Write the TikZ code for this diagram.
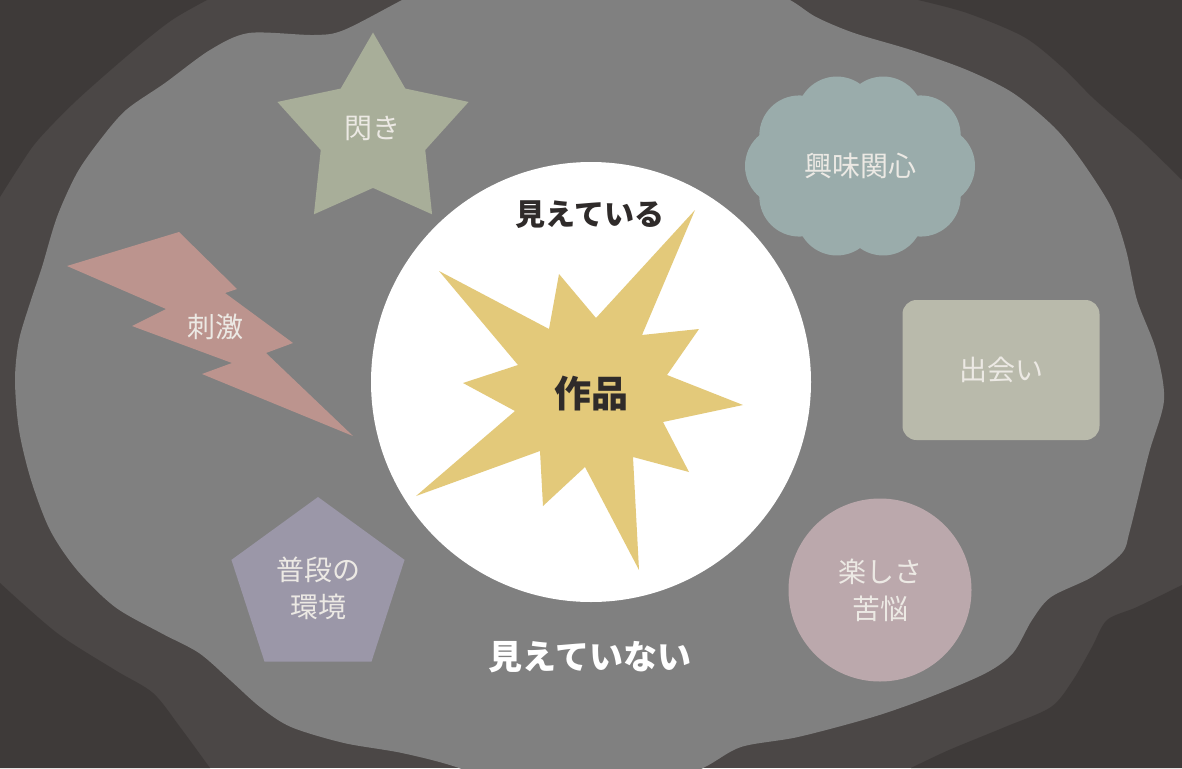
\documentclass[tikz,border=0pt]{standalone}
\usepackage{fontspec}
\setmainfont{Noto Sans CJK JP}
\usepackage{tikz}
\usetikzlibrary{shapes.geometric}
\usepackage{xcolor}
\definecolor{bgdark}{HTML}{3E3A39}
\definecolor{bgmid}{HTML}{4B4746}
\definecolor{fog}{HTML}{808080}
\definecolor{starcol}{HTML}{A8AE99}
\definecolor{boltcol}{HTML}{BC948E}
\definecolor{cloudcol}{HTML}{9AACAB}
\definecolor{boxcol}{HTML}{B9BAAB}
\definecolor{joycol}{HTML}{BBA8AC}
\definecolor{pentcol}{HTML}{9B97A8}
\definecolor{burstcol}{HTML}{E3C97A}
\definecolor{softcol}{HTML}{ECE9E4}
\definecolor{inkcol}{HTML}{2F2B2A}

\begin{document}
\begin{tikzpicture}[x=1pt, y=-1pt,
  softtext/.style={text=softcol, font=\fontsize{28}{37}\selectfont, align=center},
  headtext/.style={font=\fontsize{30}{36}\selectfont\bfseries}]
\useasboundingbox (0,0) rectangle (1182,768);
\begin{scope}
\clip (0,0) rectangle (1182,768);
\fill[bgmid] (0,0) rectangle (1182,768);
% dark corners
\fill[bgdark] (0,0) -- plot[smooth] coordinates {(207,0) (172,20) (134,50) (77,100) (38,140) (19,167) (0,197)} -- cycle;
\fill[bgdark] (0,768) -- plot[smooth] coordinates {(0,583) (57,633) (115,670) (153,693) (180,727) (210,768)} -- cycle;
\fill[bgdark] (1182,768) -- plot[smooth] coordinates {(911,768) (949,750) (1005,727) (1051,707) (1073,680) (1092,647) (1107,620) (1137,607) (1182,585)} -- cycle;
\fill[bgdark] (1182,0) -- plot[smooth] coordinates {(918,0) (967,13) (1024,37) (1062,67) (1092,97) (1118,120) (1141,140) (1182,180)} -- cycle;
% gray field
\fill[fog] plot[smooth cycle] coordinates {(402,0) (450,-25) (600,-35) (740,-25) (790,0)
  (816,17) (854,33) (911,50) (967,70) (1013,93) (1054,127) (1081,160) (1111,207)
  (1126,250) (1137,300) (1156,350) (1164,400) (1149,453) (1130,530) (1122,553)
  (1092,577) (1051,597) (1032,620) (1013,653) (986,673) (930,697) (873,717)
  (798,737) (741,747) (703,768) (640,795) (520,795) (459,768) (402,753) (344,743)
  (291,727) (260,707) (230,680) (199,653) (161,633) (115,607) (77,570) (50,530)
  (31,480) (19,430) (15,380) (19,340) (31,300) (42,267) (57,217) (77,173)
  (100,140) (126,110) (165,83) (210,50) (249,33) (314,35) (344,30)};
\end{scope}

% visible part
\node[circle, fill=white, minimum size=440pt, inner sep=0] (seen) at (591,382) {};
\fill[burstcol] (695,210) -- (642,335) -- (699,329) -- (667,375) -- (743,405)
  -- (663,422) -- (689,472) -- (633,457) -- (639,570) -- (585,467) -- (543,506)
  -- (540,451) -- (416,496) -- (515,411) -- (463,383) -- (518,365) -- (439,271)
  -- (549,329) -- (559,274) -- (596,318) -- cycle;
\node[font=\fontsize{37}{40}\selectfont\bfseries, text=inkcol] (work) at (591,394) {作品};
\node[headtext, text=inkcol] (visible) at (590,215) {見えている};
\node[headtext, font=\fontsize{34}{40}\selectfont\bfseries, text=white] (hidden) at (590,657) {見えていない};

% things around
\node[star, star points=5, star point ratio=1.83, minimum size=201pt, inner sep=0, fill=starcol] (spark) at (373,133) {};
\node[softtext] (sparktext) at (372,128) {閃き};

\fill[boltcol] (67,266) -- (179,232) -- (237,289) -- (225,293) -- (293,343) -- (266,353)
  -- (353,436) -- (202,374) -- (232,363) -- (132,326) -- (166,309) -- cycle;
\node[softtext] (jolt) at (215,327) {刺激};

\begin{scope}[shift={(860,166)}]
\foreach \a in {0,36,...,324}
  \fill[cloudcol] (\a:75pt and 52pt) circle[radius=40pt];
\fill[cloudcol] (0,0) ellipse[x radius=80pt, y radius=55pt];
\end{scope}
\node[softtext] (interest) at (860,166) {興味関心};

\node[rectangle, rounded corners=14pt, fill=boxcol, minimum width=197pt, minimum height=140pt, softtext] (meet) at (1001,370) {出会い};

\node[circle, fill=joycol, minimum size=183pt, inner sep=0, softtext] (joy) at (880,590) {楽しさ\\苦悩};

\node[regular polygon, regular polygon sides=5, minimum size=182pt, inner sep=0, fill=pentcol, softtext] (daily) at (318,588) {普段の\\環境};
\end{tikzpicture}
\end{document}
